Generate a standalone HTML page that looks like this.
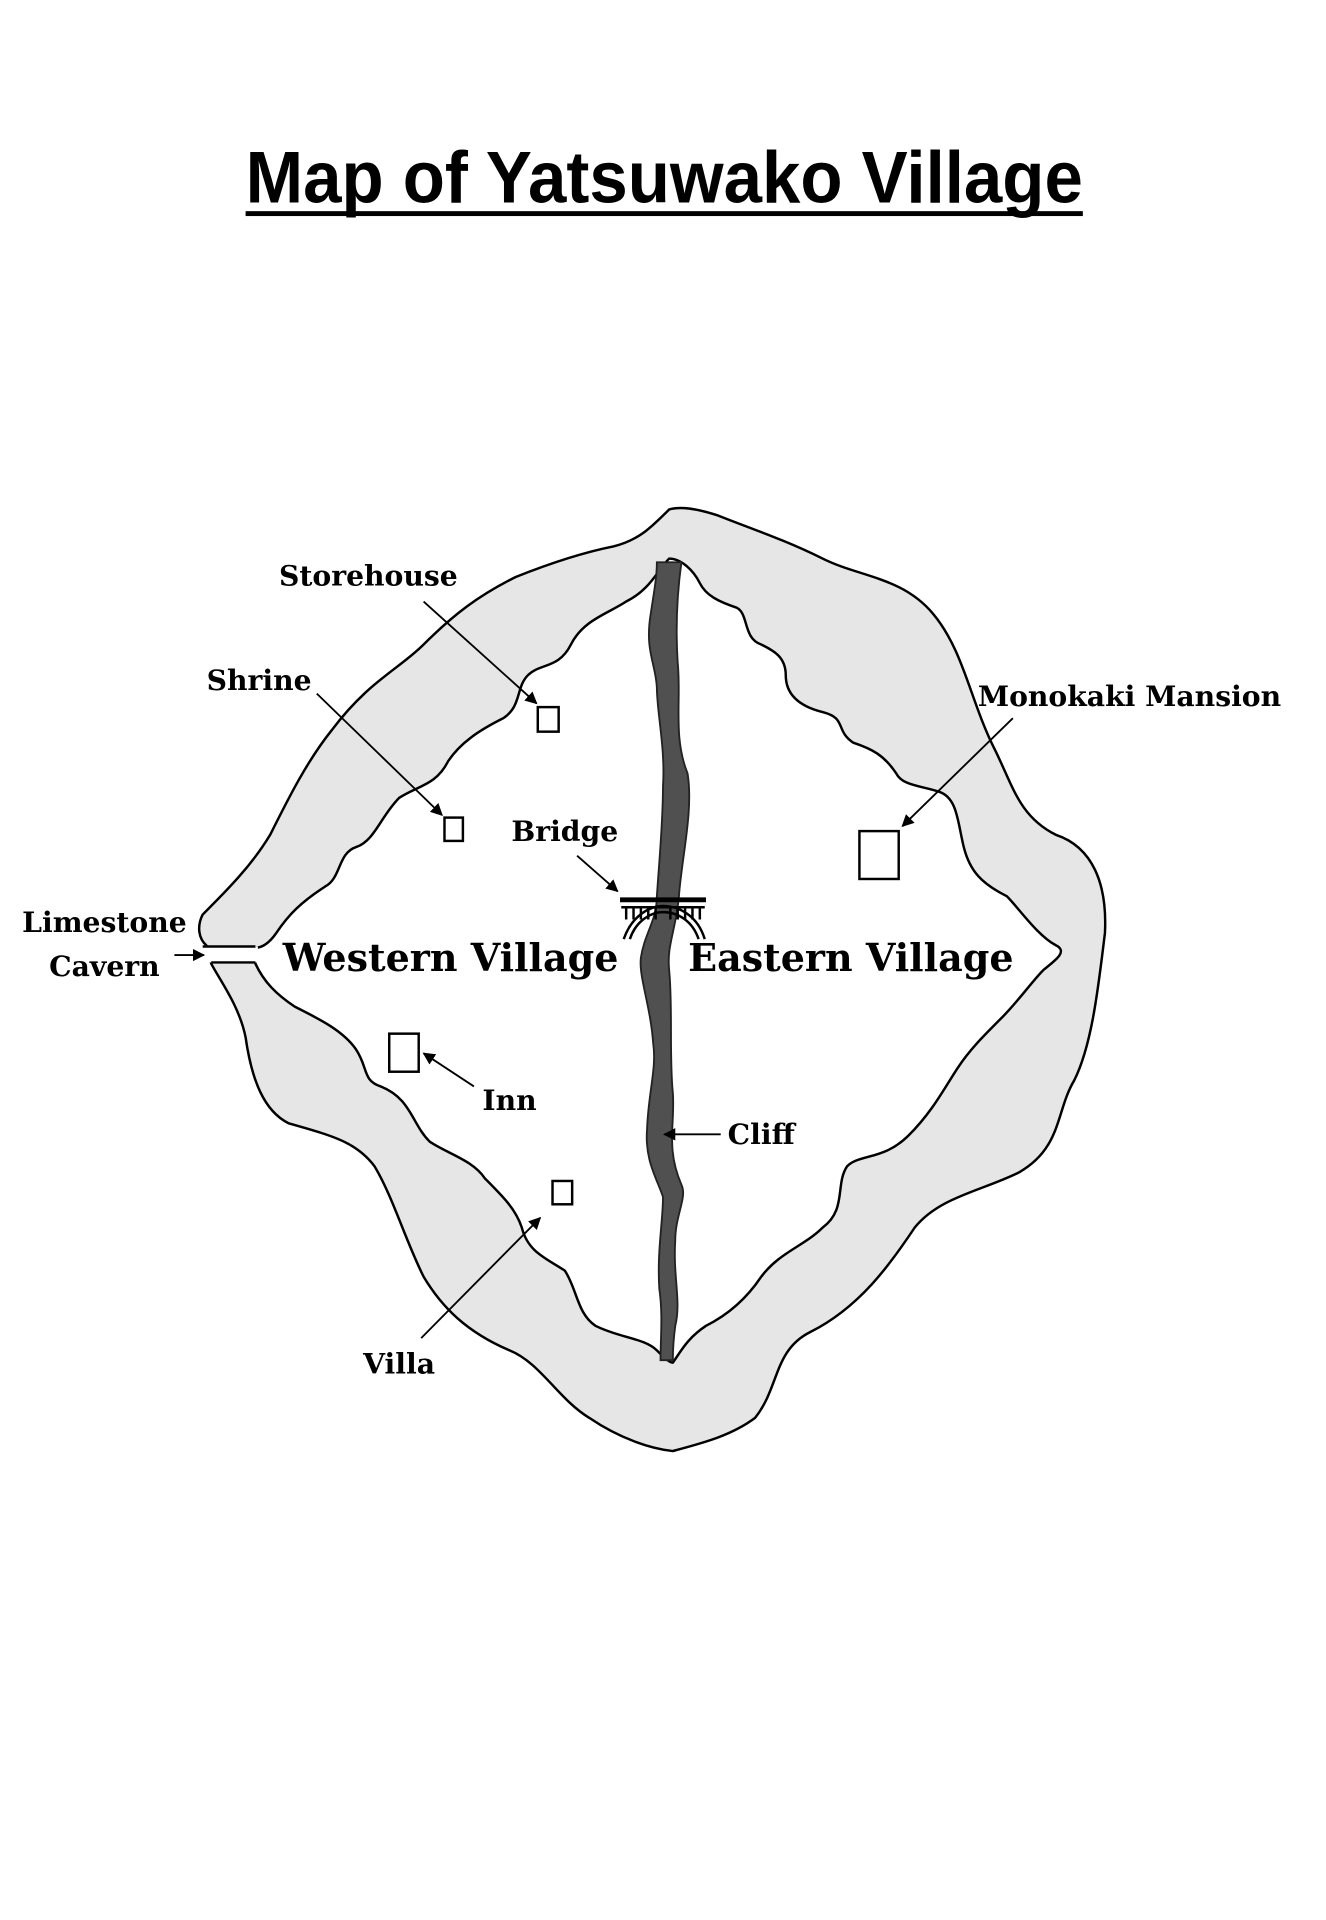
<!DOCTYPE html>
<html><head><meta charset="utf-8"><style>
html,body{margin:0;padding:0;background:#fff;}
svg{display:block}
.l{font-family:"DejaVu Serif","Liberation Serif",serif;font-weight:bold;font-size:23px;fill:#000}
.b{font-family:"DejaVu Serif","Liberation Serif",serif;font-weight:bold;font-size:31px;fill:#000}
</style></head><body>
<svg width="1326" height="1920" viewBox="0 0 1080 1564" xmlns="http://www.w3.org/2000/svg">
<defs><marker id="a" markerWidth="10" markerHeight="10" refX="9" refY="5" orient="auto" markerUnits="userSpaceOnUse"><path d="M0,0 L10,5 L0,10 z" fill="#000"/></marker></defs>
<text x="541" y="165" text-anchor="middle" textLength="682" lengthAdjust="spacingAndGlyphs" style="font-family:'Liberation Sans Narrow','Liberation Sans',sans-serif;font-weight:bold;font-size:60px">Map of Yatsuwako Village</text>
<rect x="200" y="172" width="682" height="4" fill="#000"/>
<path fill="#e6e6e6" stroke="#000" stroke-width="2" stroke-linejoin="round" d="M545,415 C530,430 520,440 500,445 C475,450 445,460 420,470 C390,485 370,500 345,525 C325,545 300,555 270,595 C250,620 235,650 220,680 C205,705 185,725 165,745 C160,755 162,765 168,770 L172,785 C180,800 195,820 200,845 C205,880 215,905 235,915 C270,925 290,930 305,950 C320,975 330,1010 345,1040 C360,1065 380,1085 415,1100 C440,1110 455,1140 480,1155 C505,1172 530,1180 548,1182 C570,1176 595,1170 615,1155 C635,1130 630,1100 660,1085 C700,1065 725,1030 745,1000 C765,975 800,970 830,955 C865,935 860,905 875,880 C890,850 895,800 900,760 C902,720 890,690 860,680 C830,665 825,640 810,610 C790,570 785,530 760,500 C735,470 700,470 670,455 C640,440 610,430 585,420 C570,415 555,412 545,415 Z"/>
<path fill="#fff" stroke="#000" stroke-width="2" stroke-linejoin="round" d="M545,455 C535,465 530,480 510,490 C495,500 475,505 465,525 C455,545 440,540 430,550 C420,560 425,575 410,585 C390,595 375,605 365,620 C355,640 340,640 325,650 C310,665 305,685 290,690 C275,695 278,715 265,722 C245,735 235,745 225,760 C218,770 212,772 208,772 L208,785 C215,800 225,810 240,820 C260,830 280,840 290,855 C300,870 295,880 310,885 C335,895 335,915 350,930 C365,940 385,945 395,960 C410,975 420,985 425,1000 C430,1020 445,1025 460,1035 C470,1050 470,1070 485,1080 C505,1090 525,1090 535,1100 C540,1105 545,1110 548,1110 C555,1100 560,1090 575,1080 C595,1070 610,1055 620,1040 C635,1020 655,1015 670,1000 C690,985 680,965 690,950 C700,940 720,945 740,925 C760,905 770,885 780,870 C790,855 800,845 815,830 C830,815 840,800 850,790 C860,782 870,775 860,770 C845,762 830,740 820,730 C800,720 790,710 785,690 C780,670 780,650 765,645 C750,640 735,640 730,630 C720,615 710,610 695,605 C680,595 690,585 670,580 C650,575 640,565 640,550 C640,535 630,530 620,525 C605,520 610,500 600,495 C585,490 575,485 570,475 C565,465 555,455 545,455 Z"/>
<rect x="162" y="771" width="48" height="13" fill="#fff"/>
<line x1="165" y1="771" x2="208" y2="771" stroke="#000" stroke-width="2"/>
<line x1="172" y1="784" x2="208" y2="784" stroke="#000" stroke-width="2"/>
<path fill="#505050" stroke="#222" stroke-width="1.5" d="M535,458 L555,458 C552,480 550,510 552,540 C555,570 548,600 560,630 C565,660 555,700 553,730 C550,760 543,770 545,790 C548,820 545,860 548,890 C550,915 542,935 555,965 C560,975 550,990 550,1010 C548,1040 555,1060 550,1080 C548,1095 548,1105 548,1108 L538,1108 C538,1090 540,1070 537,1050 C535,1020 540,995 540,975 C535,960 525,945 527,920 C528,890 535,870 532,850 C530,820 520,795 522,780 C525,760 535,750 535,730 C537,700 540,670 540,640 C542,610 535,580 535,560 C534,540 525,530 530,500 C533,480 535,470 535,458 Z"/>
<g stroke="#000" stroke-width="2" fill="none">
<line x1="505" y1="733" x2="575" y2="733" stroke-width="4"/>
<line x1="506" y1="739" x2="574" y2="739"/>
<path d="M508,765 C515,745 530,738 540,738 C552,738 568,745 574,765"/>
<path d="M513,765 C518,750 530,743 540,743 C552,743 564,750 569,765"/>
<path d="M510,739v10M516,739v10M522,739v10M528,739v10M534,739v10M546,739v10M552,739v10M558,739v10M564,739v10M570,739v10" stroke-width="2"/>
</g>
<g fill="#fff" stroke="#000" stroke-width="2">
<rect x="438" y="576" width="17" height="20"/>
<rect x="362" y="666" width="15" height="19"/>
<rect x="700" y="677" width="32" height="39"/>
<rect x="317" y="842" width="24" height="31"/>
<rect x="450" y="962" width="16" height="19"/>
</g>
<g stroke="#000" stroke-width="1.5" marker-end="url(#a)">
<line x1="345" y1="490" x2="437" y2="573"/>
<line x1="258" y1="565" x2="360" y2="664"/>
<line x1="825" y1="585" x2="735" y2="673"/>
<line x1="470" y1="697" x2="503" y2="726"/>
<line x1="386" y1="885" x2="345" y2="858"/>
<line x1="587" y1="924" x2="541" y2="924"/>
<line x1="343" y1="1090" x2="440" y2="992"/>
<line x1="142" y1="778" x2="166" y2="778"/>
</g>
<text class="l" x="300" y="477" text-anchor="middle">Storehouse</text>
<text class="l" x="211" y="562" text-anchor="middle">Shrine</text>
<text class="l" x="920" y="575" text-anchor="middle">Monokaki Mansion</text>
<text class="l" x="460" y="685" text-anchor="middle">Bridge</text>
<text class="l" x="85" y="759" text-anchor="middle">Limestone</text>
<text class="l" x="85" y="795" text-anchor="middle">Cavern</text>
<text class="b" x="367" y="791" text-anchor="middle">Western Village</text>
<text class="b" x="693" y="791" text-anchor="middle">Eastern Village</text>
<text class="l" x="415" y="904" text-anchor="middle">Inn</text>
<text class="l" x="620" y="932" text-anchor="middle">Cliff</text>
<text class="l" x="325" y="1119" text-anchor="middle">Villa</text>
</svg>
</body></html>
